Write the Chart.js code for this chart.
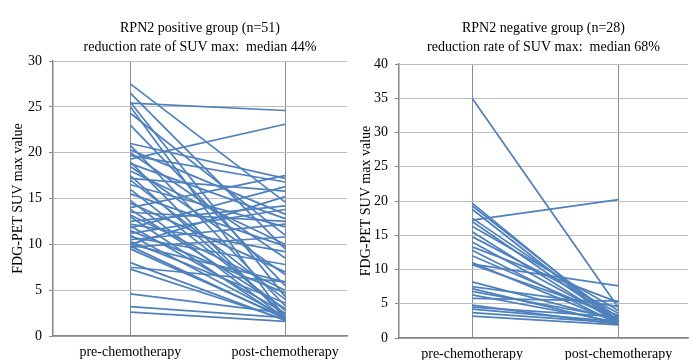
<!DOCTYPE html>
<html>
<head>
<meta charset="utf-8">
<script src="https://cdn.jsdelivr.net/npm/chart.js@4"></script>
<style>
  html, body { margin: 0; padding: 0; background: #fff; }
  .wrap { display: flex; width: 696px; height: 360px; }
  canvas { display: block; }
</style>
</head>
<body>
<div class="wrap">
  <canvas id="posChart" width="348" height="360"></canvas>
  <canvas id="negChart" width="348" height="360"></canvas>
</div>
<script>
const phases = ['pre-chemotherapy', 'post-chemotherapy'];

// RPN2 positive group (n=51), SUV max before / after chemotherapy
const posPre = [27.5, 26.5, 25.5, 25.4, 25.0, 24.3, 23.0, 21.0, 20.8, 20.3,
  20.0, 19.7, 19.3, 19.0, 18.8, 18.5, 18.0, 17.5, 17.2, 17.0,
  16.5, 16.0, 15.5, 14.8, 14.5, 14.0, 13.8, 13.5, 13.2, 13.0,
  12.5, 12.2, 12.0, 11.8, 11.5, 11.2, 11.0, 10.8, 10.5, 10.3,
  10.0, 10.0, 9.8, 9.7, 9.5, 8.0, 7.5, 7.3, 4.6, 3.2, 2.6];
const posPost = [14.6, 9.5, 4.3, 24.6, 2.0, 11.0, 5.5, 17.2, 3.3, 13.3,
  8.5, 16.8, 23.1, 2.0, 12.8, 6.7, 10.0, 2.3, 15.8, 4.0,
  11.9, 2.8, 9.8, 1.9, 7.0, 17.5, 3.0, 12.5, 5.0, 1.8,
  14.2, 9.2, 2.5, 16.3, 4.7, 13.8, 2.1, 7.8, 12.2, 3.6,
  15.2, 5.9, 1.9, 10.8, 2.0, 1.7, 5.9, 1.8, 2.5, 2.0, 1.6];

// RPN2 negative group (n=28)
const negPre = [35.0, 19.7, 19.3, 18.8, 17.5, 17.2, 17.0, 16.3, 15.5, 14.8,
  14.0, 13.3, 12.8, 12.0, 11.0, 10.8, 10.7, 8.2, 7.5, 7.2,
  6.8, 6.3, 5.8, 4.8, 4.5, 4.2, 3.7, 3.2];
const negPost = [4.4, 2.2, 2.5, 2.0, 3.0, 20.2, 2.3, 4.0, 2.1, 3.6,
  2.4, 5.2, 2.0, 2.8, 2.2, 7.6, 3.3, 2.6, 4.6, 2.1,
  2.9, 2.3, 5.4, 2.0, 3.1, 2.4, 2.2, 1.9];

const PRE_X = 1, POST_X = 3;
const serif = 'Liberation Serif, Times New Roman, serif';
const lineBlue = '#4f81bd';

function makeDatasets(pre, post) {
  return pre.map((v, i) => ({
    data: [{ x: PRE_X, y: v }, { x: POST_X, y: post[i] }],
    borderColor: lineBlue,
    borderWidth: 1.75,
    pointRadius: 0,
    fill: false
  }));
}

function makeChart(id, pre, post, title, subtitle, opts) {
  new Chart(document.getElementById(id), {
    type: 'line',
    data: { datasets: makeDatasets(pre, post) },
    options: {
      responsive: false,
      animation: false,
      devicePixelRatio: 1,
      layout: { padding: { left: 0, right: opts.padRight, top: 0, bottom: 0 } },
      plugins: {
        legend: { display: false },
        tooltip: { enabled: false },
        title: {
          display: true, text: title, fullSize: false, color: '#000',
          font: { family: serif, size: 14, weight: 'normal', lineHeight: 1.2 },
          padding: { top: 20, bottom: 2 }
        },
        subtitle: {
          display: true, text: subtitle, fullSize: false, color: '#000',
          font: { family: serif, size: 14, weight: 'normal', lineHeight: 1.2 },
          padding: { top: 0, bottom: opts.subBottom }
        }
      },
      scales: {
        x: {
          type: 'linear',
          min: 0,
          max: opts.xMax,
          afterBuildTicks: s => { s.ticks = [PRE_X, 2, POST_X].map(v => ({ value: v })); },
          afterFit: s => { s.height = opts.xHeight; },
          ticks: {
            autoSkip: false, maxRotation: 0, padding: 8, color: '#000',
            font: { family: serif, size: 14 },
            callback: v => v === PRE_X ? phases[0] : (v === POST_X ? phases[1] : '')
          },
          grid: {
            drawTicks: false,
            lineWidth: 1,
            color: ctx => (ctx.tick && ctx.tick.value === 2) ? 'rgba(0,0,0,0)' : '#8c8c8c'
          },
          border: { color: '#868686', width: 1.5 }
        },
        y: {
          min: 0,
          max: opts.yMax,
          afterFit: s => { s.width = opts.yWidth; },
          ticks: {
            stepSize: 5, padding: 7, color: '#000',
            font: { family: serif, size: 14 }
          },
          grid: { color: '#bdbdbd', lineWidth: 1, tickLength: 4, tickColor: '#868686' },
          border: { color: '#868686', width: 1.5 },
          title: {
            display: true, text: 'FDG-PET SUV max value', color: '#000',
            font: { family: serif, size: 14, lineHeight: 1.2 },
            padding: { top: 10, bottom: 0 }
          }
        }
      }
    }
  });
}

makeChart('posChart', posPre, posPost,
  'RPN2 positive group (n=51)', 'reduction rate of SUV max:  median 44%',
  { padRight: 1, xMax: 3.8, yMax: 30, yWidth: 53, xHeight: 24, subBottom: 5.4 });

makeChart('negChart', negPre, negPost,
  'RPN2 negative group (n=28)', 'reduction rate of SUV max:  median 68%',
  { padRight: 8, xMax: 3.95, yMax: 40, yWidth: 51, xHeight: 22, subBottom: 8.4 });
</script>
</body>
</html>
